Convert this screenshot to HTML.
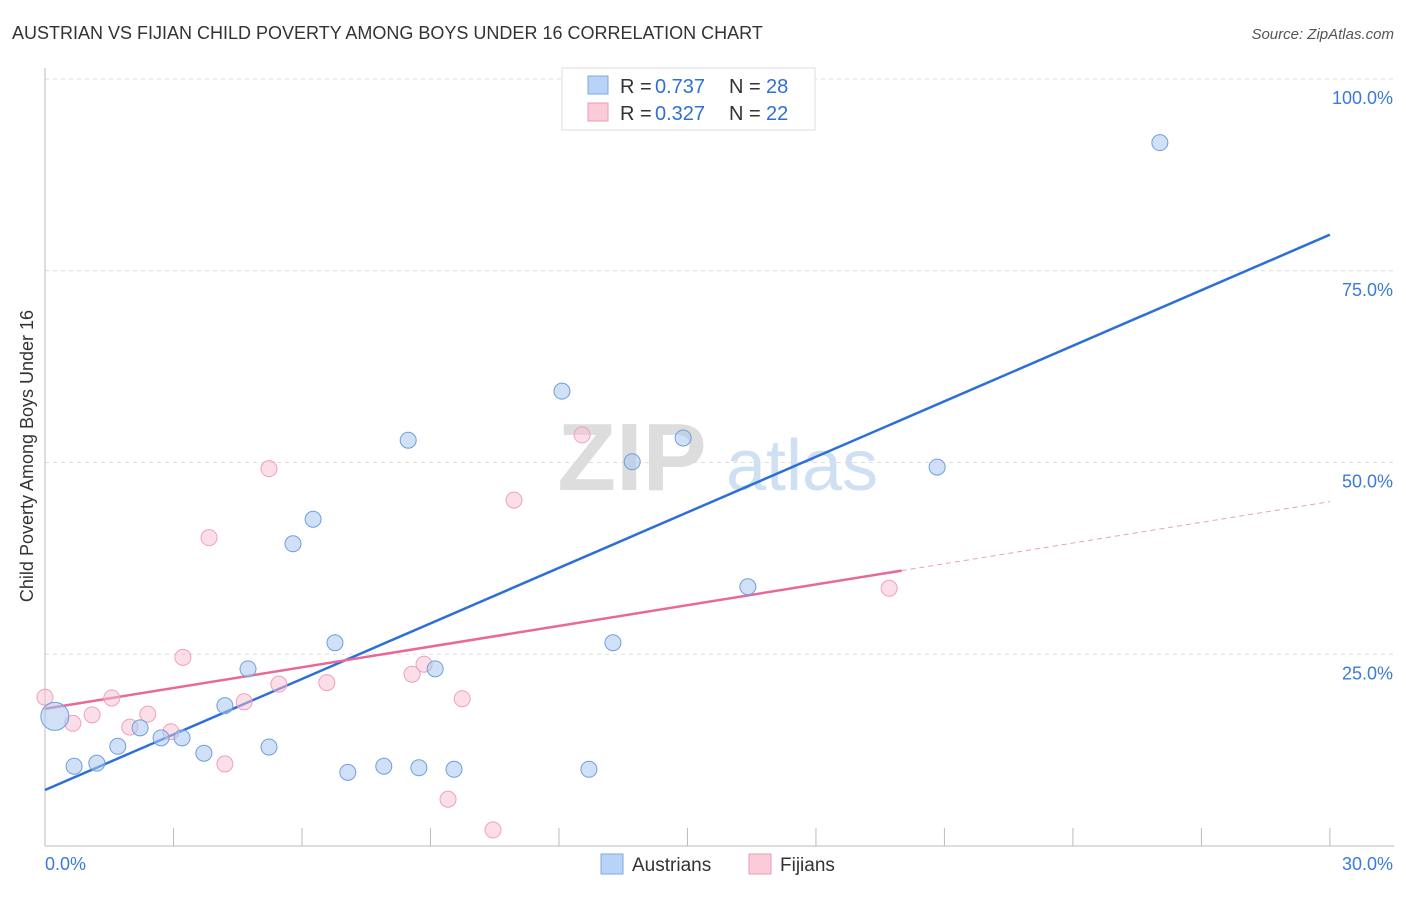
<!DOCTYPE html>
<html><head><meta charset="utf-8"><style>
body{margin:0;background:#fff;font-family:"Liberation Sans",sans-serif}
svg text{font-family:"Liberation Sans",sans-serif}
</style></head><body>
<svg id="chart" width="1406" height="892" viewBox="0 0 1406 892" xmlns="http://www.w3.org/2000/svg">
<text x="12" y="39" font-size="18" fill="#333">AUSTRIAN VS FIJIAN CHILD POVERTY AMONG BOYS UNDER 16 CORRELATION CHART</text>
<text x="1394" y="39" font-size="15" fill="#555" text-anchor="end" font-style="italic">Source: ZipAtlas.com</text>
<g>
<text x="632" y="490" font-size="96" fill="#ddd" font-family="Liberation Serif" text-anchor="middle" font-weight="bold">ZIP</text>
<text x="802" y="490" font-size="72" fill="#cfe0f3" text-anchor="middle">atlas</text>
</g>
<g id="grid"></g>
<g id="axes"></g>
<g id="lines"></g>
<g id="points"></g>
<text transform="translate(33,456) rotate(-90)" font-size="18" fill="#333" text-anchor="middle">Child Poverty Among Boys Under 16</text>
<g>
<rect x="562" y="68" width="253" height="62" fill="#fff" stroke="#ddd"/>
<rect x="588" y="76" width="20" height="18" fill="#b8d3f5" stroke="#7aaae6"/>
<rect x="588" y="103" width="20" height="18" fill="#fbcbd9" stroke="#f09ab5"/>
<text x="620" y="93" font-size="20" fill="#333">R =</text>
<text x="655" y="93" font-size="20" fill="#2f6fd6">0.737</text>
<text x="729" y="93" font-size="20" fill="#333">N =</text>
<text x="766" y="93" font-size="20" fill="#2f6fd6">28</text>
<text x="620" y="120" font-size="20" fill="#333">R =</text>
<text x="655" y="120" font-size="20" fill="#2f6fd6">0.327</text>
<text x="729" y="120" font-size="20" fill="#333">N =</text>
<text x="766" y="120" font-size="20" fill="#2f6fd6">22</text>
</g>
<g>
<rect x="601" y="854" width="22" height="20" fill="#b8d3f5" stroke="#7aaae6"/>
<text x="632" y="871" font-size="19" fill="#333">Austrians</text>
<rect x="749" y="854" width="22" height="20" fill="#fbcbd9" stroke="#f09ab5"/>
<text x="780" y="871" font-size="19" fill="#333">Fijians</text>
</g>
</svg>
<script>
const blueX=[0.23,0.68,1.21,1.70,2.22,2.71,3.20,3.71,4.20,4.74,5.23,5.79,6.26,6.77,7.07,7.91,8.48,8.73,9.11,9.55,12.07,12.70,13.26,13.71,14.90,16.41,20.83,26.03];
const blueY=[16.9,10.4,10.8,13.0,15.4,14.1,14.1,12.1,18.3,23.1,12.9,39.4,42.6,26.5,9.6,10.4,52.9,10.2,23.1,10.0,59.3,10.0,26.5,50.1,53.2,33.8,49.4,91.7];
const pinkX=[0,0.65,1.10,1.56,1.98,2.40,2.94,3.22,3.83,4.20,4.65,5.23,5.46,6.58,8.57,8.85,9.41,9.74,10.46,10.95,12.54,19.71];
const pinkY=[19.4,16.0,17.1,19.3,15.5,17.2,14.9,24.6,40.2,10.7,18.8,49.2,21.1,21.3,22.4,23.7,6.1,19.2,2.1,45.1,53.6,33.6];
const blueLine=[7.3,79.7];
const pinkLine=[17.9,44.9];
const pinkSolidEnd=20;
const yTicks=[25,50,75,100];
const yTickLabels=["25.0%","50.0%","75.0%","100.0%"];
const xTicks=[0,3,6,9,12,15,18,21,24,27,30];
const NS="http://www.w3.org/2000/svg";
const sx=v=>45+v*42.83, sy=v=>846-v*7.67;
function mk(tag,attrs,parent){const e=document.createElementNS(NS,tag);for(const k in attrs)e.setAttribute(k,attrs[k]);document.getElementById(parent).appendChild(e);return e;}
yTicks.forEach((t,i)=>{
 const g=mk('line',{x1:45,x2:1394,y1:sy(t),y2:sy(t),stroke:'#ddd','stroke-dasharray':'4,4'},'grid');
 
 
 const l=mk('text',{x:1393,y:sy(t)+25,'font-size':18,fill:'#3b7ad9','text-anchor':'end'},'grid');
 l.textContent=yTickLabels[i];
 
 
});
const ax=mk('line',{x1:45,x2:45,y1:68,y2:846,stroke:'#bbb'},'axes');


const bx=mk('line',{x1:45,x2:1394,y1:846,y2:846,stroke:'#bbb'},'axes');


xTicks.forEach(t=>{
 const k=mk('line',{x1:sx(t),x2:sx(t),y1:828,y2:846,stroke:'#bbb'},'axes');
 
 
});
const x0=mk('text',{x:45,y:870,'font-size':18,fill:'#3b7ad9'},'axes');x0.textContent='0.0%';


const x1=mk('text',{x:1393,y:870,'font-size':18,fill:'#3b7ad9','text-anchor':'end'},'axes');x1.textContent='30.0%';


pinkX.forEach((x,i)=>{
 const c=mk('circle',{cx:sx(x),cy:sy(pinkY[i]),r:8,fill:'rgba(248,190,210,0.5)',stroke:'#f0a0bb','stroke-width':1},'points');
 
 
});
blueX.forEach((x,i)=>{
 const c=mk('circle',{cx:sx(x),cy:sy(blueY[i]),r:i===0?14:8,fill:'rgba(170,200,240,0.55)',stroke:'#6f9fdc','stroke-width':1},'points');
 
 
});
const bl=mk('line',{x1:sx(0),y1:sy(blueLine[0]),x2:sx(30),y2:sy(blueLine[1]),stroke:'#2c6fd6','stroke-width':2.5},'lines');


const pm=pinkLine[0]+(pinkLine[1]-pinkLine[0])*pinkSolidEnd/30;
const pl=mk('line',{x1:sx(0),y1:sy(pinkLine[0]),x2:sx(pinkSolidEnd),y2:sy(pm),stroke:'#e8689a','stroke-width':2.5},'lines');


const pd=mk('line',{x1:sx(pinkSolidEnd),y1:sy(pm),x2:sx(30),y2:sy(pinkLine[1]),stroke:'#e8a0b8','stroke-width':1,'stroke-dasharray':'5,4'},'lines');


</script>
</body></html>
